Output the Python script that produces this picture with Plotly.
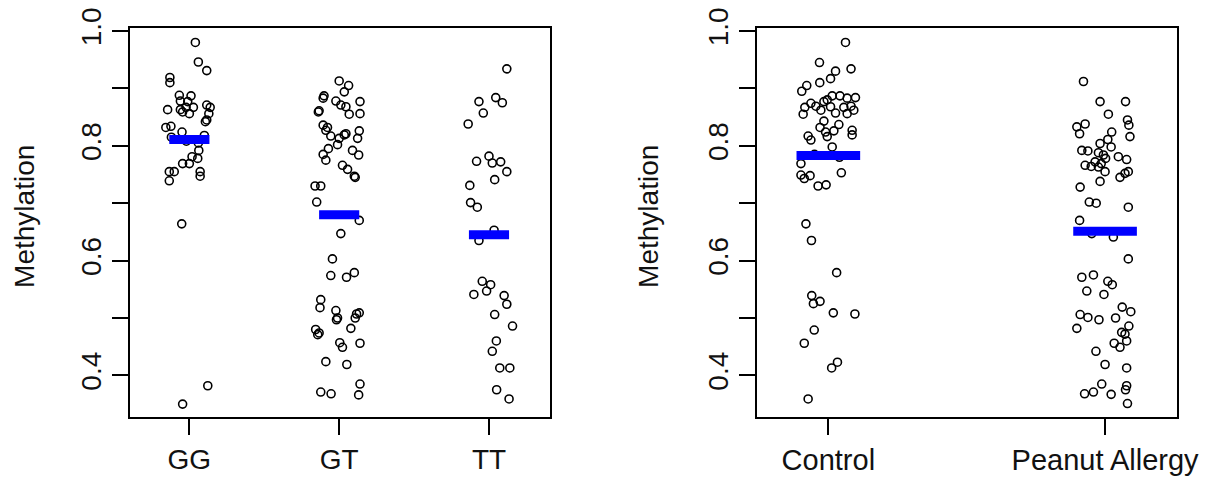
import plotly.graph_objects as go

# ---------------- data ----------------
geno_categories = ["GG", "GT", "TT"]
group_categories = ["Control", "Peanut Allergy"]

gg_jitter = [0.040, 0.060, 0.116, -0.130, -0.130, -0.067, 0.011, -0.060, -0.011, -0.145,
             -0.060, -0.022, 0.027, 0.116, 0.139, -0.045, 0.000, 0.130, 0.116, 0.107,
             -0.157, -0.123, -0.049, -0.120, 0.060, -0.020, 0.100, 0.063, 0.018, -0.045,
             0.000, 0.056, -0.134, -0.101, 0.072, 0.072, -0.134, -0.051, 0.123, -0.045]
gg_values = [0.980, 0.946, 0.931, 0.919, 0.910, 0.888, 0.887, 0.878, 0.877, 0.863,
             0.863, 0.867, 0.867, 0.871, 0.867, 0.859, 0.856, 0.856, 0.845, 0.842,
             0.832, 0.834, 0.824, 0.815, 0.805, 0.808, 0.818, 0.792, 0.781, 0.769,
             0.769, 0.778, 0.755, 0.755, 0.755, 0.747, 0.739, 0.664, 0.382, 0.350]

gt_jitter = [0.000, 0.063, 0.034, -0.101, -0.107, -0.022, 0.011, 0.045, 0.139, -0.134,
             -0.139, 0.067, 0.139, -0.107, -0.078, -0.089, -0.056, 0.045, 0.034, 0.000,
             0.134, 0.123, -0.011, -0.072, -0.107, -0.089, 0.089, 0.130, 0.022, 0.056,
             0.101, 0.107, -0.161, -0.123, -0.150, 0.134, 0.011, -0.045, -0.056, 0.049,
             0.101, -0.123, -0.128, -0.022, -0.011, -0.018, 0.116, 0.134, 0.107, -0.157,
             -0.134, -0.143, 0.078, 0.004, 0.022, 0.139, -0.089, 0.051, 0.139, -0.123,
             -0.054, 0.130]
gt_values = [0.913, 0.905, 0.894, 0.887, 0.883, 0.878, 0.871, 0.868, 0.877, 0.861,
             0.859, 0.855, 0.856, 0.836, 0.832, 0.827, 0.817, 0.821, 0.819, 0.813,
             0.826, 0.813, 0.802, 0.795, 0.785, 0.775, 0.792, 0.784, 0.766, 0.759,
             0.747, 0.745, 0.730, 0.730, 0.702, 0.670, 0.647, 0.603, 0.574, 0.571,
             0.579, 0.532, 0.518, 0.513, 0.500, 0.497, 0.507, 0.509, 0.500, 0.480,
             0.474, 0.471, 0.482, 0.457, 0.449, 0.456, 0.424, 0.419, 0.385, 0.371,
             0.368, 0.366]

tt_jitter = [0.119, -0.067, 0.045, 0.089, -0.038, -0.139, -0.083, 0.000, 0.022, 0.078,
             0.119, 0.038, -0.128, -0.123, -0.078, 0.034, -0.067, -0.045, 0.011, -0.016,
             -0.101, 0.101, 0.119, 0.038, 0.157, 0.049, 0.022, 0.072, 0.139, 0.051,
             0.134]
tt_values = [0.934, 0.877, 0.884, 0.875, 0.857, 0.838, 0.773, 0.782, 0.770, 0.772,
             0.755, 0.741, 0.731, 0.701, 0.693, 0.653, 0.635, 0.564, 0.558, 0.547,
             0.541, 0.539, 0.524, 0.506, 0.486, 0.460, 0.442, 0.413, 0.413, 0.375,
             0.359]

control_jitter = [0.062, -0.032, 0.026, 0.082, 0.008, -0.031, -0.078, -0.096, -0.063, -0.091,
                  -0.085, -0.045, -0.027, -0.004, 0.014, 0.042, 0.068, 0.098, -0.016, 0.008,
                  0.026, 0.056, 0.068, 0.092, 0.082, -0.016, -0.030, -0.010, 0.020, 0.038,
                  -0.004, -0.073, -0.063, 0.086, 0.086, 0.014, -0.050, 0.040, -0.099, -0.099,
                  -0.087, -0.066, 0.047, -0.037, -0.008, -0.081, -0.061, 0.030, -0.060, -0.054,
                  -0.030, 0.018, 0.096, -0.051, -0.087, 0.012, 0.033, -0.073]
control_values = [0.980, 0.945, 0.930, 0.934, 0.917, 0.910, 0.905, 0.895, 0.874, 0.855,
                  0.867, 0.869, 0.862, 0.880, 0.887, 0.887, 0.883, 0.884, 0.877, 0.868,
                  0.857, 0.867, 0.856, 0.862, 0.869, 0.843, 0.832, 0.824, 0.826, 0.837,
                  0.816, 0.817, 0.810, 0.827, 0.819, 0.798, 0.785, 0.780, 0.769, 0.749,
                  0.743, 0.748, 0.753, 0.730, 0.732, 0.664, 0.635, 0.579, 0.539, 0.525,
                  0.529, 0.509, 0.507, 0.479, 0.456, 0.413, 0.423, 0.359]

allergy_jitter = [-0.078, -0.018, 0.074, 0.012, 0.081, 0.086, 0.090, -0.102, -0.072, -0.092,
                  0.024, -0.018, 0.010, 0.022, -0.084, -0.062, 0.048, 0.078, -0.024, -0.006,
                  0.002, -0.036, -0.014, -0.024, -0.072, -0.050, 0.000, 0.084, 0.072, 0.054,
                  -0.018, -0.090, -0.057, -0.032, 0.084, -0.092, -0.048, 0.030, 0.084, -0.084,
                  -0.042, 0.010, 0.026, -0.066, -0.004, -0.090, -0.062, -0.022, 0.038, 0.062,
                  0.093, -0.102, 0.086, 0.060, 0.072, 0.033, 0.054, 0.078, -0.033, 0.000,
                  0.078, -0.012, -0.074, -0.042, 0.022, 0.078, 0.074, 0.081]
allergy_values = [0.912, 0.877, 0.877, 0.855, 0.845, 0.836, 0.816, 0.833, 0.838, 0.821,
                  0.824, 0.804, 0.811, 0.798, 0.792, 0.791, 0.781, 0.776, 0.788, 0.784,
                  0.778, 0.772, 0.769, 0.763, 0.766, 0.764, 0.755, 0.755, 0.752, 0.745,
                  0.738, 0.728, 0.702, 0.700, 0.693, 0.670, 0.647, 0.641, 0.603, 0.571,
                  0.575, 0.564, 0.558, 0.547, 0.541, 0.506, 0.501, 0.497, 0.500, 0.519,
                  0.511, 0.482, 0.486, 0.475, 0.472, 0.456, 0.449, 0.460, 0.442, 0.419,
                  0.413, 0.385, 0.368, 0.371, 0.367, 0.382, 0.375, 0.351]

geno_means = [0.811, 0.680, 0.645]
group_means = [0.783, 0.651]

y_tickvals = [0.4, 0.5, 0.6, 0.7, 0.8, 0.9, 1.0]
y_ticktext = ["0.4", "", "0.6", "", "0.8", "", "1.0"]

# ---------------- figure ----------------
FONT = "Liberation Sans, Arial, sans-serif"
fig = go.Figure()

marker = dict(symbol="circle-open", size=8, color="black", line=dict(width=1.6, color="black"))

def add_strip(pos, jit, vals, xa, ya):
    fig.add_trace(go.Scatter(x=[pos + j for j in jit], y=vals, mode="markers",
                             marker=marker, xaxis=xa, yaxis=ya, showlegend=False,
                             hoverinfo="y"))

for i, (jit, vals) in enumerate([(gg_jitter, gg_values), (gt_jitter, gt_values), (tt_jitter, tt_values)]):
    add_strip(i + 1, jit, vals, "x", "y")
for i, (jit, vals) in enumerate([(control_jitter, control_values), (allergy_jitter, allergy_values)]):
    add_strip(i + 1, jit, vals, "x2", "y2")

def add_bar(pos, m, hw, xa, ya):
    fig.add_trace(go.Scatter(x=[pos - hw, pos + hw], y=[m, m], mode="lines",
                             line=dict(color="#0000ff", width=9), xaxis=xa, yaxis=ya,
                             showlegend=False, hoverinfo="y"))

for i, m in enumerate(geno_means):
    add_bar(i + 1, m, 0.134, "x", "y")
for i, m in enumerate(group_means):
    add_bar(i + 1, m, 0.115, "x2", "y2")

axis_common = dict(showline=True, linecolor="black", linewidth=1.5, mirror=True,
                   ticks="outside", ticklen=16, tickwidth=1.5, tickcolor="black",
                   showgrid=False, zeroline=False, automargin=False,
                   tickfont=dict(family=FONT, size=28, color="#111"))

fig.update_layout(
    width=1213, height=482,
    margin=dict(l=0, r=0, t=0, b=0, autoexpand=False),
    paper_bgcolor="white", plot_bgcolor="white",
    font=dict(family=FONT, size=28, color="#111"),
    xaxis=dict(domain=[0.1072, 0.4534], range=[0.604, 3.407], tickvals=[1, 2, 3],
               ticktext=geno_categories, anchor="y", **axis_common),
    yaxis=dict(domain=[0.1342, 0.9413], range=[0.327, 1.0047], tickvals=y_tickvals,
               ticktext=y_ticktext, tickangle=-90, anchor="x", **axis_common),
    xaxis2=dict(domain=[0.6238, 0.9701], range=[0.741, 2.259], tickvals=[1, 2],
                ticktext=group_categories, anchor="y2",
                **{**axis_common, "tickfont": dict(family=FONT, size=29, color="#111")}),
    yaxis2=dict(domain=[0.1342, 0.9413], range=[0.327, 1.0047], tickvals=y_tickvals,
                ticktext=y_ticktext, tickangle=-90, anchor="x2", **axis_common),
    annotations=[
        dict(text="Methylation", x=25 / 1213, y=0.55, xref="paper", yref="paper",
             textangle=-90, showarrow=False, xanchor="center", yanchor="middle",
             font=dict(family=FONT, size=28, color="#111")),
        dict(text="Methylation", x=649 / 1213, y=0.55, xref="paper", yref="paper",
             textangle=-90, showarrow=False, xanchor="center", yanchor="middle",
             font=dict(family=FONT, size=28, color="#111")),
    ],
)

fig.write_html("out.html", config={"displayModeBar": False},
               post_script="document.body.style.margin='0';document.body.style.overflow='hidden';")
